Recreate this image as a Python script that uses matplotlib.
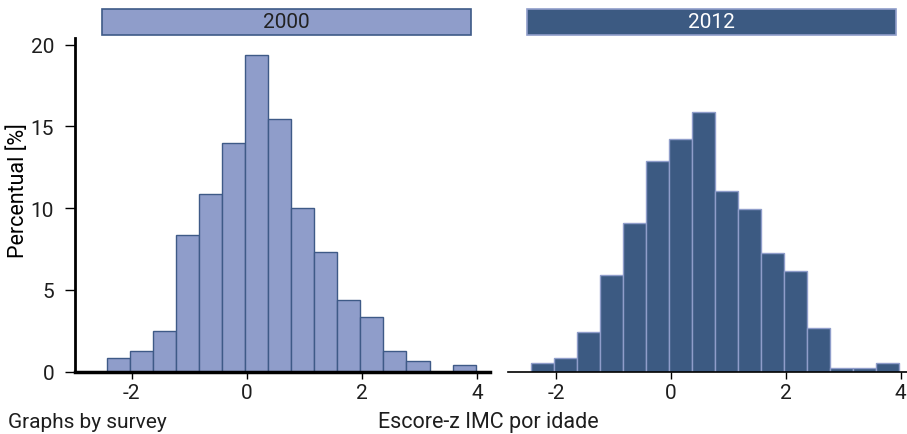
import numpy as np
import matplotlib
matplotlib.use('Agg')
import matplotlib.pyplot as plt
from matplotlib.patches import Rectangle

plt.rcParams['font.family'] = ['Roboto', 'DejaVu Sans']
plt.rcParams['axes.unicode_minus'] = False
plt.rcParams['text.color'] = '#1e1e1e'
plt.rcParams['xtick.labelcolor'] = '#1e1e1e'
plt.rcParams['ytick.labelcolor'] = '#1e1e1e'

# histogram bins of BMI-for-age z-score, bin width 0.4
bin_start = -2.43
bin_width = 0.4
pct_2000 = [0.82, 1.27, 2.51, 8.35, 10.86, 13.98, 19.39, 15.43, 10.0, 7.29,
            4.39, 3.33, 1.27, 0.63, 0.0, 0.41]
pct_2012 = [0.51, 0.82, 2.43, 5.92, 9.12, 12.88, 14.22, 15.86, 11.02, 9.94,
            7.24, 6.18, 2.69, 0.24, 0.24, 0.51]
surveys = ['2000', '2012']
xticks = [-2, 0, 2, 4]
yticks = [0, 5, 10, 15, 20]

light = '#8f9dca'
dark = '#3c5a82'
fs = 15


def draw_hist(ax, values, face, edge):
    edges = bin_start + bin_width * np.arange(len(values))
    ax.bar(edges, values, width=bin_width, align='edge', color=face,
           edgecolor=edge, linewidth=1.0, zorder=2)
    ax.set_xticks(xticks)
    ax.tick_params(axis='x', labelsize=fs, length=5, width=1, pad=3)
    for s in ['top', 'right']:
        ax.spines[s].set_visible(False)
    ax.set_ylim(0, 20.4)


fig = plt.figure(figsize=(9.07, 4.35), dpi=100)
ax1 = fig.add_axes([0.0827, 0.1432, 0.4576, 0.767])
ax2 = fig.add_axes([0.560, 0.1432, 0.440, 0.767])

draw_hist(ax1, pct_2000, light, '#3e5a87')
ax1.set_xlim(-2.98, 4.22)
ax1.spines['left'].set_linewidth(2)
ax1.spines['bottom'].set_linewidth(2.5)
ax1.set_yticks(yticks)
ax1.tick_params(axis='y', labelsize=fs, length=7, width=1, pad=8)
ax1.set_ylabel('Percentual [%]', fontsize=fs + 0.5, va='center')
ax1.yaxis.set_label_coords(-0.137, 0.547)

draw_hist(ax2, pct_2012, dark, light)
ax2.set_xlim(-2.84, 4.11)
ax2.spines['left'].set_visible(False)
ax2.spines['bottom'].set_linewidth(1.2)
ax2.set_yticks([])

# strip headers above each panel
for x0, label, face, txt in [(102, surveys[0], light, '#222222'),
                             (527, surveys[1], dark, 'white')]:
    fig.patches.append(Rectangle((x0 / 907, (435 - 36) / 435), 369 / 907, 26 / 435,
                                 transform=fig.transFigure, facecolor=face,
                                 edgecolor='#3e5a87' if face == light else light,
                                 linewidth=1.2))
    fig.text((x0 + 184.5) / 907, (435 - 23) / 435, label, ha='center', va='center',
             fontsize=fs, color=txt)

fig.text(8 / 907, (435 - 423) / 435, 'Graphs by survey', ha='left', va='center',
         fontsize=fs)
fig.text(488 / 907, (435 - 423) / 435, 'Escore-z IMC por idade', ha='center',
         va='center', fontsize=fs + 0.5)

plt.savefig('out.png', dpi=100)
